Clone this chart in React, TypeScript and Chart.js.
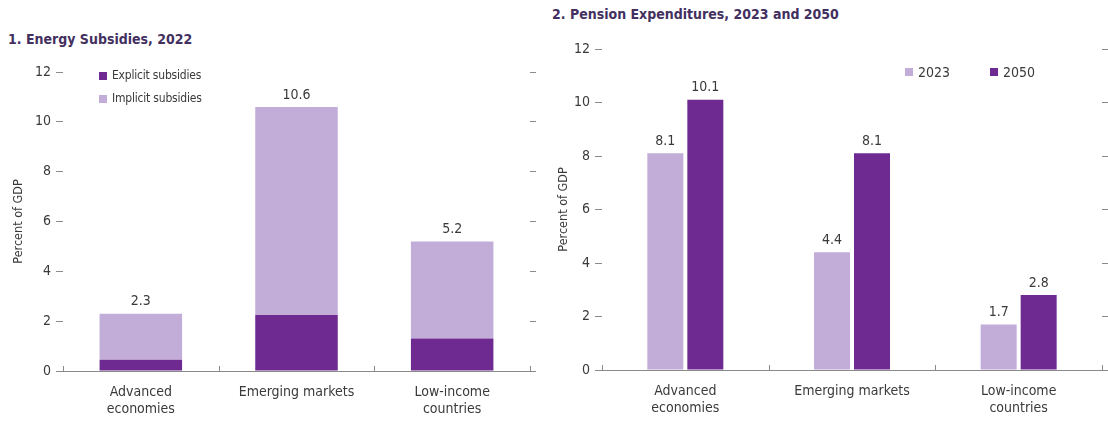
import React, { useEffect, useRef } from "react";
import { Chart, registerables } from "chart.js";

Chart.register(...registerables);

const FONT = "'Liberation Sans Narrow', 'DejaVu Sans Condensed', 'Roboto Condensed', Roboto, sans-serif";
const DARK = "#6f2a91";
const LIGHT = "#c2acd8";
const TEXT = "#3a3a3a";
const AXIS = "#8a8a8a";
const TITLE = "#43305f";

// Panel 1: Energy subsidies, 2022 (percent of GDP)
const energyCategories = [["Advanced", "economies"], "Emerging markets", ["Low-income", "countries"]];
const explicitSubsidies = [0.45, 2.25, 1.3];
const implicitSubsidies = [1.85, 8.35, 3.9];
const energyTotals = [2.3, 10.6, 5.2];

// Panel 2: Pension expenditures (percent of GDP)
const pensionCategories = [["Advanced", "economies"], "Emerging markets", ["Low-income", "countries"]];
const pension2023 = [8.1, 4.4, 1.7];
const pension2050 = [10.1, 8.1, 2.8];

const yTicks = [0, 2, 4, 6, 8, 10, 12];

const catTickPlugin = {
  id: "catTicks",
  afterDraw(chart: any) {
    const x = chart.scales.x;
    const ctx = chart.ctx;
    const n = chart.data.labels.length;
    ctx.save();
    ctx.strokeStyle = AXIS;
    ctx.lineWidth = 1;
    for (let i = 0; i <= n; i++) {
      const px = Math.round(x.left + (i * (x.right - x.left)) / n) + 0.5;
      ctx.beginPath();
      ctx.moveTo(px, x.top);
      ctx.lineTo(px, x.top - 5);
      ctx.stroke();
    }
    ctx.restore();
  },
};

const valueLabelPlugin = {
  id: "valueLabels",
  afterDatasetsDraw(chart: any, _args: any, opts: any) {
    const ctx = chart.ctx;
    ctx.save();
    ctx.font = `14px ${FONT}`;
    ctx.fillStyle = TEXT;
    ctx.textAlign = "center";
    ctx.textBaseline = "bottom";
    const items: { ds: number; values: number[] }[] = opts.items || [];
    items.forEach(({ ds, values }) => {
      const meta = chart.getDatasetMeta(ds);
      meta.data.forEach((bar: any, i: number) => {
        ctx.fillText(values[i].toFixed(1), bar.x, bar.y - 5);
      });
    });
    ctx.restore();
  },
};

function baseScales(leftWidth: number, rightWidth: number, bottomHeight: number) {
  return {
    x: {
      grid: { display: false },
      border: { display: true, color: AXIS, width: 1 },
      ticks: { color: TEXT, font: { family: FONT, size: 14 }, padding: 5, maxRotation: 0, autoSkip: false },
      afterFit: (s: any) => { s.height = bottomHeight; },
    },
    y: {
      position: "left",
      min: 0,
      max: 12,
      afterBuildTicks: (s: any) => { s.ticks = yTicks.map((v) => ({ value: v })); },
      grid: { display: true, drawOnChartArea: false, drawTicks: true, tickLength: 7, tickColor: AXIS },
      border: { display: false },
      ticks: { color: TEXT, font: { family: FONT, size: 14 }, padding: 5 },
      title: { display: true, text: "Percent of GDP", color: TEXT, font: { family: FONT, size: 12.5 }, padding: { top: 11, bottom: 0 } },
      afterFit: (s: any) => { s.width = leftWidth; },
    },
    y2: {
      position: "right",
      min: 0,
      max: 12,
      afterBuildTicks: (s: any) => { s.ticks = yTicks.map((v) => ({ value: v })); },
      grid: { display: true, drawOnChartArea: false, drawTicks: true, tickLength: 6, tickColor: AXIS },
      border: { display: false },
      ticks: { display: false },
      afterFit: (s: any) => { s.width = rightWidth; },
    },
  };
}

function EnergyChart() {
  const ref = useRef<HTMLCanvasElement | null>(null);
  useEffect(() => {
    const chart = new Chart(ref.current as HTMLCanvasElement, {
      type: "bar",
      data: {
        labels: energyCategories as any,
        datasets: [
          { label: "Explicit subsidies", data: explicitSubsidies, backgroundColor: DARK, stack: "s", barPercentage: 1, categoryPercentage: 0.53 },
          { label: "Implicit subsidies", data: implicitSubsidies, backgroundColor: LIGHT, stack: "s", barPercentage: 1, categoryPercentage: 0.53 },
        ],
      },
      options: {
        animation: false,
        responsive: false,
        maintainAspectRatio: false,
        layout: { padding: { top: 22, left: 0, right: 0, bottom: 0 } },
        plugins: {
          legend: { display: false },
          tooltip: { enabled: false },
          valueLabels: { items: [{ ds: 1, values: energyTotals }] },
        } as any,
        scales: (() => {
          const s: any = baseScales(63, 15, 52);
          s.x.stacked = true;
          s.y.stacked = true;
          return s;
        })(),
      },
      plugins: [catTickPlugin, valueLabelPlugin],
    });
    return () => chart.destroy();
  }, []);
  return <canvas ref={ref} width={545} height={373} style={{ position: "absolute", left: 0, top: 50, width: 545, height: 373 }} />;
}

function PensionChart() {
  const ref = useRef<HTMLCanvasElement | null>(null);
  useEffect(() => {
    const chart = new Chart(ref.current as HTMLCanvasElement, {
      type: "bar",
      data: {
        labels: pensionCategories as any,
        datasets: [
          { label: "2023", data: pension2023, backgroundColor: LIGHT, barPercentage: 0.9, categoryPercentage: 0.48 },
          { label: "2050", data: pension2050, backgroundColor: DARK, barPercentage: 0.9, categoryPercentage: 0.48 },
        ],
      },
      options: {
        animation: false,
        responsive: false,
        maintainAspectRatio: false,
        layout: { padding: { top: 24, left: 0, right: 0, bottom: 0 } },
        plugins: {
          legend: { display: false },
          tooltip: { enabled: false },
          valueLabels: { items: [{ ds: 0, values: pension2023 }, { ds: 1, values: pension2050 }] },
        } as any,
        scales: baseScales(57, 6, 53) as any,
      },
      plugins: [catTickPlugin, valueLabelPlugin],
    });
    return () => chart.destroy();
  }, []);
  return <canvas ref={ref} width={563} height={398} style={{ position: "absolute", left: 545, top: 25, width: 563, height: 398 }} />;
}

const sq = (color: string) => ({ display: "inline-block", width: 8, height: 8, background: color, marginRight: 5 });

export default function App() {
  return (
    <div style={{ position: "absolute", left: 0, top: 0, width: 1108, height: 423, overflow: "hidden", background: "#fff", fontFamily: FONT }}>
      <div style={{ position: "absolute", left: 8, top: 31, fontSize: 14, fontWeight: "bold", color: TITLE, whiteSpace: "nowrap" }}>1. Energy Subsidies, 2022</div>
      <div style={{ position: "absolute", left: 552, top: 6, fontSize: 14, fontWeight: "bold", color: TITLE, whiteSpace: "nowrap" }}>2. Pension Expenditures, 2023 and 2050</div>
      <EnergyChart />
      <PensionChart />
      <div style={{ position: "absolute", left: 99, top: 64, fontSize: 12, color: TEXT, lineHeight: "23px", whiteSpace: "nowrap", letterSpacing: "-0.2px" }}>
        <div style={{ display: "flex", alignItems: "center" }}><span style={sq(DARK)} />Explicit subsidies</div>
        <div style={{ display: "flex", alignItems: "center" }}><span style={sq(LIGHT)} />Implicit subsidies</div>
      </div>
      <div style={{ position: "absolute", left: 905, top: 62, fontSize: 14, color: TEXT, lineHeight: "20px", whiteSpace: "nowrap", display: "flex" }}>
        <div style={{ display: "flex", alignItems: "center", marginRight: 40 }}><span style={sq(LIGHT)} />2023</div>
        <div style={{ display: "flex", alignItems: "center" }}><span style={sq(DARK)} />2050</div>
      </div>
    </div>
  );
}
